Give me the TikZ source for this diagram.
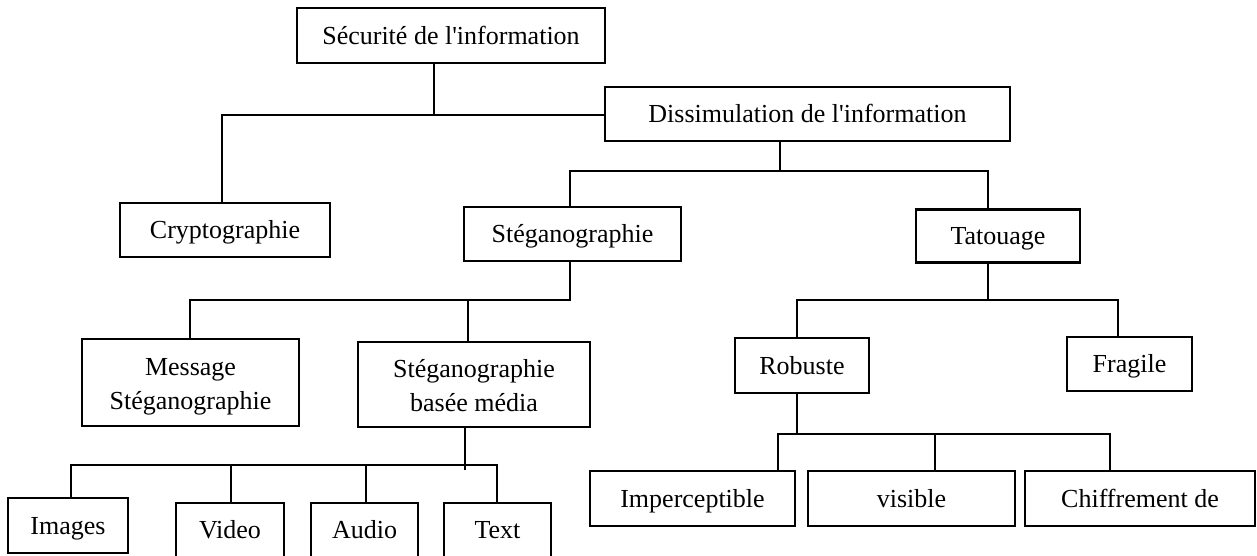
\documentclass[tikz,border=0pt]{standalone}
\usepackage{fontspec}
\newfontfamily\tnr{Liberation Serif}
\begin{document}
\begin{tikzpicture}[x=1pt,y=-1pt,
  box/.style={draw,line width=2.8pt,inner sep=0pt,minimum width=#1,
    text height=22pt,text depth=5pt,
    font=\tnr\fontsize{26}{34}\selectfont},
  box2/.style={draw,line width=2.8pt,inner sep=0pt,minimum width=#1,align=center,
    text height=58pt,text depth=5pt,
    font=\tnr\fontsize{26}{34}\selectfont},
  conn/.style={line width=2.1pt,line cap=rect}]
\useasboundingbox (0,0) rectangle (1257,555);
\clip (0,0) rectangle (1257,555);
% boxes
\node[box=308pt,minimum height=55pt] (sec) at (451,35.5) {Sécurité de l'information};
\node[box=405pt,minimum height=54pt] (dis) at (807.5,114) {Dissimulation de l'information};
\node[box=210pt,minimum height=54pt] (cry) at (225,230) {Cryptographie};
\node[box=217pt,minimum height=54pt] (steg) at (572.5,234) {Stéganographie};
\node[box=164pt,minimum height=53pt] (tat) at (998,236) {Tatouage};
\node[box2=217pt,minimum height=87pt] (msg) at (190.5,382.5) {Message\\Stéganographie};
\node[box2=232pt,minimum height=85pt] (med) at (474,384.5) {Stéganographie\\basée média};
\node[box=120pt,minimum height=55pt] (img) at (68,525.5) {Images};
\node[box=108pt,minimum height=54pt] (vid) at (230,530) {Video};
\node[box=107pt,minimum height=54pt] (aud) at (364.5,530) {Audio};
\node[box=107pt,minimum height=54pt] (txt) at (497.5,530) {Text};
\node[box=134pt,minimum height=55pt] (rob) at (802,365.5) {Robuste};
\node[box=125pt,minimum height=54pt] (fra) at (1129.5,364) {Fragile};
\node[box=205pt,minimum height=55pt] (imp) at (692.5,498.5) {Imperceptible};
\node[box=207pt,minimum height=55pt] (vis) at (911.5,498.5) {visible};
\node[box=230pt,minimum height=55pt] (chi) at (1140,498.5) {Chiffrement de};
% junctions
\coordinate (a1) at (434,115);
\coordinate (a2) at (222,115);
\coordinate (b1) at (780,171);
\coordinate (b2) at (570,171);
\coordinate (b3) at (988,171);
\coordinate (c1) at (570,300);
\coordinate (c2) at (190,300);
\coordinate (c3) at (468,300);
\coordinate (d1) at (465,469);
\coordinate (d2) at (71,465);
\coordinate (d3) at (231,465);
\coordinate (d4) at (366,465);
\coordinate (d5) at (497,465);
\coordinate (e1) at (988,300);
\coordinate (e2) at (797,300);
\coordinate (e3) at (1118,300);
\coordinate (f1) at (797,434);
\coordinate (f2) at (778,434);
\coordinate (f3) at (935,434);
\coordinate (f4) at (1110,434);
% connectors
\draw[conn] (a1 |- sec.south) -- (a1);
\draw[conn] (a2 |- cry.north) -- (a2) -- (a2 -| dis.west);
\draw[conn] (b1 |- dis.south) -- (b1);
\draw[conn] (b2 |- steg.north) -- (b2) -- (b3) -- (b3 |- tat.north);
\draw[conn] (c1 |- steg.south) -- (c1);
\draw[conn] (c2 |- msg.north) -- (c2) -- (c1);
\draw[conn] (c3) -- (c3 |- med.north);
\draw[conn] (d1 |- med.south) -- (d1);
\draw[conn] (d2 |- img.north) -- (d2) -- (d5) -- (d5 |- txt.north);
\draw[conn] (d3) -- (d3 |- vid.north);
\draw[conn] (d4) -- (d4 |- aud.north);
\draw[conn] (e1 |- tat.south) -- (e1);
\draw[conn] (e2 |- rob.north) -- (e2) -- (e3) -- (e3 |- fra.north);
\draw[conn] (f1 |- rob.south) -- (f1);
\draw[conn] (f2 |- imp.north) -- (f2) -- (f4) -- (f4 |- chi.north);
\draw[conn] (f3) -- (f3 |- vis.north);
\end{tikzpicture}
\end{document}
